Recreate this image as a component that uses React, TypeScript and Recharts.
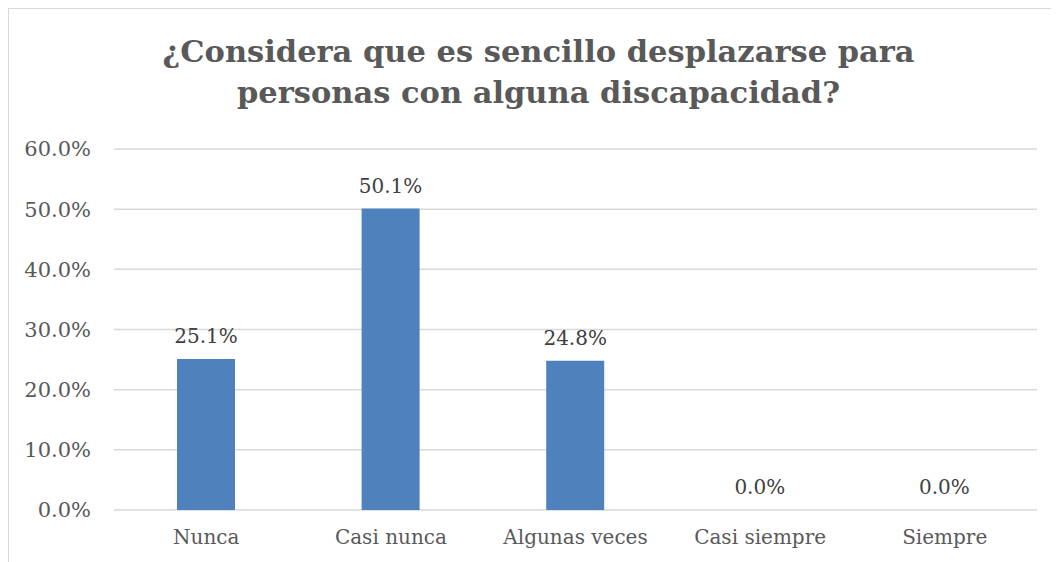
import { BarChart, Bar, XAxis, YAxis, CartesianGrid, LabelList, Cell } from "recharts";

const categories = ["Nunca", "Casi nunca", "Algunas veces", "Casi siempre", "Siempre"];
const shares = [25.1, 50.1, 24.8, 0.0, 0.0];
const yTicks = [0, 10, 20, 30, 40, 50, 60];

const FONT = "'DejaVu Serif', serif";
const GREY = "#595959";
const BAR = "#4F81BD";

const chartData = categories.map((name, i) => ({ name, value: shares[i] }));

// zero bars get a 1px invisible stub so their label still shows
const renderValue = (props: any) => {
  const { x, y, width, height, value } = props;
  const top = Number(value) === 0 ? Number(y) + Number(height) : Number(y);
  return (
    <text
      x={Number(x) + Number(width) / 2}
      y={top - 16}
      textAnchor="middle"
      fontSize={20}
      fill="#404040"
      fontFamily={FONT}
    >
      {`${Number(value).toFixed(1)}%`}
    </text>
  );
};

export default function App() {
  return (
    <div
      style={{
        position: "relative",
        width: 1051,
        height: 554,
        borderTop: "1px solid #d9d9d9",
        borderLeft: "1px solid #d9d9d9",
        boxSizing: "border-box",
        fontFamily: FONT,
        background: "#fff",
      }}
    >
      <div
        style={{
          position: "absolute",
          top: 22,
          left: 0,
          width: 1059,
          textAlign: "center",
          fontSize: 30.5,
          fontWeight: "bold",
          color: GREY,
          lineHeight: "41px",
        }}
      >
        ¿Considera que es sencillo desplazarse para
        <br />
        personas con alguna discapacidad?
      </div>
      <BarChart
        width={1050}
        height={553}
        data={chartData}
        margin={{ top: 140, right: 22, left: 0, bottom: 0 }}
        barSize={58}
      >
        <CartesianGrid stroke="#d9d9d9" strokeWidth={1.5} vertical={false} />
        <XAxis
          dataKey="name"
          axisLine={false}
          tickLine={false}
          height={52}
          tick={{ fontSize: 20, fill: GREY, fontFamily: FONT }}
          tickMargin={14}
        />
        <YAxis
          width={105}
          domain={[0, 60]}
          ticks={yTicks}
          axisLine={false}
          tickLine={false}
          tickMargin={17}
          tick={{ fontSize: 21, fill: GREY, fontFamily: FONT }}
          tickFormatter={(v: number) => `${v.toFixed(1)}%`}
        />
        <Bar
          dataKey="value"
          fill={BAR}
          minPointSize={(v: number) => (v === 0 ? 1 : 0)}
          isAnimationActive={false}
        >
          {chartData.map((d, i) => (
            <Cell key={i} fill={d.value === 0 ? "transparent" : BAR} />
          ))}
          <LabelList dataKey="value" content={renderValue} />
        </Bar>
      </BarChart>
    </div>
  );
}
